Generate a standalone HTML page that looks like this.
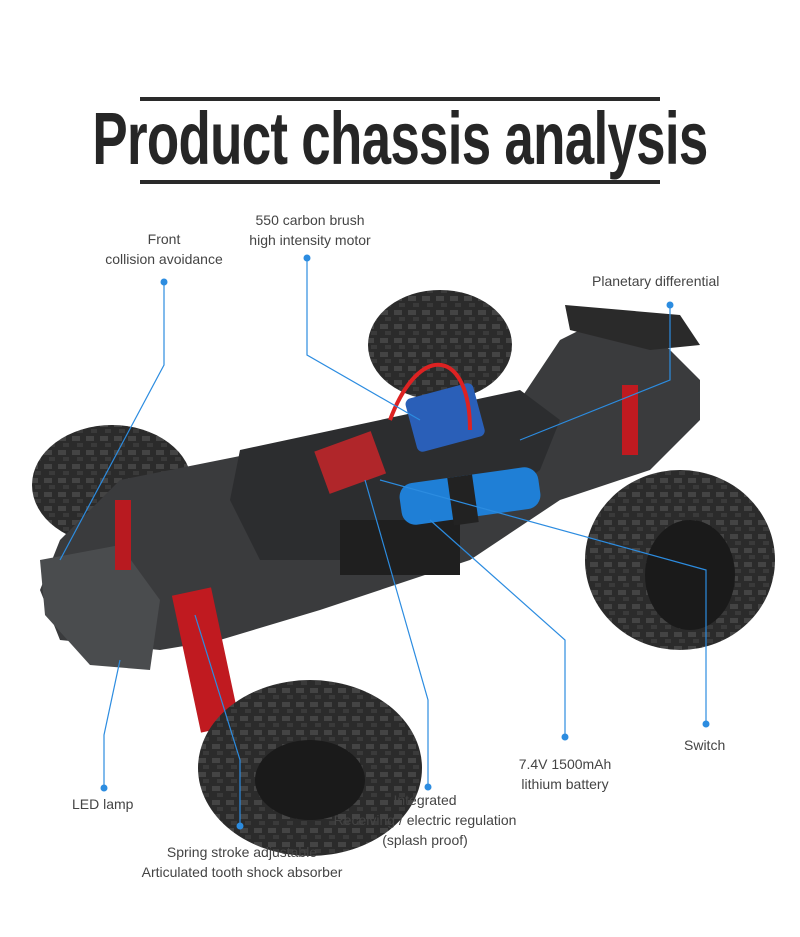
<!DOCTYPE html>
<html><head><meta charset="utf-8"><style>
html,body{margin:0;padding:0;background:#fff;}
body{width:800px;height:937px;position:relative;overflow:hidden;font-family:"Liberation Sans",sans-serif;}
.bar{position:absolute;left:140px;width:520px;height:4px;background:#2a2a2a;}
.title{position:absolute;left:400px;top:96px;font-weight:bold;font-size:74px;color:#262626;letter-spacing:-1px;white-space:nowrap;transform:translateX(-50%) scaleX(0.715);line-height:normal;}
.lb{position:absolute;font-size:14px;color:#444;text-align:center;line-height:20px;white-space:nowrap;}
svg{position:absolute;left:0;top:0;}
</style></head><body>
<div class="bar" style="top:97px"></div>
<div class="bar" style="top:180px"></div>
<div class="title">Product chassis analysis</div>

<svg width="800" height="937" viewBox="0 0 800 937">
<defs>
<pattern id="tread" width="14" height="14" patternUnits="userSpaceOnUse">
<rect width="14" height="14" fill="#2b2b2b"/><rect x="2" y="2" width="8" height="5" fill="#444"/><rect x="7" y="9" width="6" height="4" fill="#3a3a3a"/>
</pattern>
</defs>
<ellipse cx="440" cy="345" rx="72" ry="55" fill="url(#tread)"/>
<ellipse cx="112" cy="485" rx="80" ry="60" fill="url(#tread)"/>
<polygon points="120,480 520,400 560,340 600,320 650,330 700,380 700,420 650,470 560,500 470,560 320,610 220,640 160,650 60,640 40,590 60,540" fill="#3a3b3d"/>
<polygon points="240,450 520,390 560,420 540,470 470,520 360,560 260,560 230,500" fill="#2c2d2f"/>
<polygon points="565,305 680,315 700,345 650,350 570,330" fill="#2a2a2a"/>
<polygon points="40,560 120,545 160,600 150,670 90,665 45,615" fill="#4a4c4e"/>
<rect x="340" y="520" width="120" height="55" fill="#1f1f1f"/>
<rect x="410" y="390" width="70" height="55" rx="6" fill="#2a5fb8" transform="rotate(-15 445 417)"/>
<rect x="320" y="440" width="60" height="45" fill="#b0262a" transform="rotate(-20 350 462)"/>
<path d="M390 420 C420 340 470 350 470 430" stroke="#d22" stroke-width="4" fill="none"/>
<rect x="400" y="475" width="140" height="42" rx="14" fill="#1f7fd6" transform="rotate(-8 470 496)"/>
<rect x="450" y="475" width="25" height="48" fill="#222" transform="rotate(-8 470 496)"/>
<rect x="186" y="590" width="40" height="140" fill="#c01a20" transform="rotate(-12 206 660)"/>
<rect x="115" y="500" width="16" height="70" fill="#b81a20"/>
<rect x="622" y="385" width="16" height="70" fill="#c01a20"/>
<ellipse cx="310" cy="768" rx="112" ry="88" fill="url(#tread)"/>
<ellipse cx="310" cy="780" rx="55" ry="40" fill="#1a1a1a"/>
<ellipse cx="680" cy="560" rx="95" ry="90" fill="url(#tread)"/>
<ellipse cx="690" cy="575" rx="45" ry="55" fill="#1a1a1a"/>
<g stroke="#2c8ce0" stroke-width="1.2" fill="none">
<polyline points="164,282 164,365 60,560"/>
<polyline points="307,258 307,355 420,420"/>
<polyline points="670,305 670,380 520,440"/>
<polyline points="104,788 104,735 120,660"/>
<polyline points="240,826 240,760 195,615"/>
<polyline points="428,787 428,700 365,480"/>
<polyline points="565,737 565,640 430,520"/>
<polyline points="706,724 706,570 380,480"/>
</g>
<g fill="#2c8ce0">
<circle cx="164" cy="282" r="3.5"/><circle cx="307" cy="258" r="3.5"/><circle cx="670" cy="305" r="3.5"/>
<circle cx="104" cy="788" r="3.5"/><circle cx="240" cy="826" r="3.5"/><circle cx="428" cy="787" r="3.5"/>
<circle cx="565" cy="737" r="3.5"/><circle cx="706" cy="724" r="3.5"/>
</g>
</svg>

<div class="lb" style="left:94px;top:229px;width:140px">Front<br>collision avoidance</div>
<div class="lb" style="left:230px;top:210px;width:160px">550 carbon brush<br>high intensity motor</div>
<div class="lb" style="left:592px;top:271px">Planetary differential</div>
<div class="lb" style="left:72px;top:794px">LED lamp</div>
<div class="lb" style="left:117px;top:842px;width:250px">Spring stroke adjustable<br>Articulated tooth shock absorber</div>
<div class="lb" style="left:320px;top:790px;width:210px">Integrated<br>Receiving / electric regulation<br>(splash proof)</div>
<div class="lb" style="left:505px;top:754px;width:120px">7.4V 1500mAh<br>lithium battery</div>
<div class="lb" style="left:684px;top:735px">Switch</div>
</body></html>
